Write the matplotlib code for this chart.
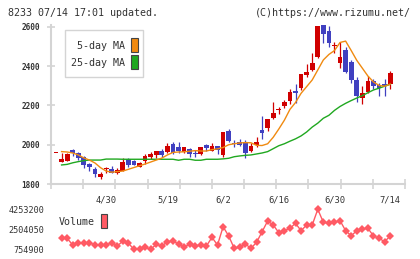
import matplotlib
matplotlib.use("Agg")
import matplotlib.pyplot as plt
import numpy as np
from matplotlib.patches import Rectangle

nan = np.nan

# ------------------------------------------------
# data (one entry per trading day)
# ------------------------------------------------
opens = [1957, 1914, 1919, 1973, 1956, 1939, 1900, 1878, 1837, 1878,
         1878, 1854, 1867, 1926, 1917, 1888, 1919, 1936, 1948, 1968,
         1965, 2004, 1989, 1965, 1978, 1960, 1953, 1997, 1970, 1994,
         1948, 2070, 2011, 2014, 2014, 1968, 1999, 2075, 2087, 2135,
         2177, 2197, 2223, 2276, 2288, 2355, 2381, 2449, 2610, 2581,
         2505, 2415, 2483, 2423, 2330, 2240, 2270, 2325, 2304, 2309,
         2309]
highs = [1957, 1960, 1960, 1978, 1961, 1944, 1908, 1885, 1861, 1888,
         1890, 1880, 1931, 1934, 1924, 1914, 1953, 1965, 1968, 1978,
         2007, 2012, 2014, 1989, 1985, 1973, 1990, 2004, 2007, 1994,
         2065, 2079, 2024, 2028, 2024, 2007, 2038, 2146, 2131, 2216,
         2191, 2228, 2282, 2310, 2360, 2411, 2466, 2605, 2610, 2605,
         2525, 2525, 2497, 2432, 2347, 2301, 2350, 2337, 2313, 2334,
         2376]
lows = [1957, 1914, 1919, 1944, 1922, 1884, 1868, 1837, 1824, 1854,
        1858, 1849, 1866, 1885, 1897, 1885, 1902, 1929, 1931, 1939,
        1960, 1953, 1960, 1960, 1939, 1939, 1948, 1970, 1970, 1953,
        1939, 2016, 1987, 1995, 1934, 1963, 1990, 2029, 2070, 2130,
        2157, 2186, 2208, 2214, 2277, 2344, 2377, 2444, 2517, 2500,
        2466, 2393, 2367, 2316, 2219, 2208, 2265, 2284, 2248, 2248,
        2284]
closes = [1957, 1927, 1953, 1956, 1934, 1895, 1885, 1849, 1849, 1878,
          1858, 1871, 1912, 1897, 1897, 1908, 1943, 1954, 1968, 1948,
          1994, 1956, 1968, 1989, 1951, 1953, 1990, 1985, 1994, 1973,
          2065, 2019, 2002, 1999, 1956, 1994, 2014, 2058, 2131, 2163,
          2177, 2216, 2270, 2262, 2360, 2372, 2418, 2605, 2565, 2520,
          2505, 2449, 2372, 2330, 2248, 2265, 2325, 2301, 2291, 2299,
          2367]

ma5 = [nan, 1965, 1963, 1958, 1948, 1933, 1922, 1907, 1883, 1866,
       1860, 1863, 1866, 1875, 1884, 1893, 1902, 1912, 1922, 1932,
       1948, 1961, 1963, 1964, 1967, 1970, 1968, 1968, 1975, 1979,
       1986, 2000, 2005, 2009, 2011, 2010, 1997, 1996, 2005, 2038,
       2080, 2125, 2180, 2215, 2262, 2296, 2330, 2381, 2432, 2460,
       2480, 2521, 2528, 2480, 2430, 2390, 2350, 2320, 2302, 2298,
       2309]
ma25 = [nan, 1897, 1900, 1908, 1914, 1919, 1922, 1922, 1922, 1927,
        1927, 1927, 1926, 1926, 1926, 1926, 1926, 1926, 1926, 1926,
        1926, 1926, 1921, 1926, 1926, 1921, 1921, 1926, 1926, 1926,
        1928, 1931, 1939, 1943, 1946, 1948, 1953, 1958, 1965, 1980,
        1995, 2005, 2018, 2030, 2045, 2065, 2090, 2110, 2135, 2150,
        2175, 2195, 2211, 2225, 2238, 2250, 2265, 2279, 2288, 2298,
        2308]

volume = [nan, 1717000, 1717000, 1130000, 1330000, 1280000, 1330000, 1130000, 1130000, 1130000,
          1330000, 1040000, 1480000, 1280000, 755000, 755000, 930000, 755000, 1190000, 1040000,
          1420000, 1480000, 1220000, 930000, 1220000, 1040000, 1130000, 1040000, 1800000, 1130000,
          2730000, 1920000, 840000, 930000, 1220000, 840000, 1360000, 2290000, 3230000, 2880000,
          2210000, 2380000, 2590000, 3030000, 2380000, 2880000, 2880000, 4250000, 3120000, 3030000,
          3120000, 3260000, 2380000, 1940000, 2380000, 2530000, 2590000, 1920000, 1720000, 1420000,
          1920000]

date_labels = ["4/30", "5/19", "6/2", "6/16", "6/30", "7/14"]
date_index = [10, 21, 31, 41, 51, 61]
price_ticks = [1800, 2000, 2200, 2400, 2600]
vol_ticks = [754900, 2504050, 4253200]

# ------------------------------------------------
# colours / figure
# ------------------------------------------------
RED = "#d00000"
BLUE = "#4040c0"
ORANGE = "#f08a10"
GREEN = "#20a820"
VOLC = "#ff5a64"
GRAY = "#d4d4d4"
TXT = "#333333"

W, H = 420, 259
fig = plt.figure(figsize=(W / 100, H / 100), dpi=100)
plt.rcParams['font.family'] = ['DejaVu Sans Mono']


def fx(px):
    return px / W


def fy(py):
    return 1 - py / H


x = np.arange(1, len(opens) + 1)
xlo, xhi = 0.1, 63.66

# ------------------------------------------------
# price panel
# ------------------------------------------------
ax = fig.add_axes([fx(51), fy(184), fx(405) - fx(51), fy(25) - fy(184)])
ax.set_xlim(xlo, xhi)
ax.set_ylim(1800, 2610)

o = np.array(opens)
c = np.array(closes)
up = c >= o
cols = np.where(up, RED, BLUE)
ax.vlines(x, lows, highs, colors=cols, lw=0.9, zorder=2)
body_low = np.minimum(o, c)
body_h = np.maximum(np.abs(c - o), 4)
ax.bar(x, body_h, bottom=body_low, width=0.85, color=cols, lw=0, zorder=3)

ax.plot(x, ma25, color=GREEN, lw=1.0, zorder=4)
ax.plot(x, ma5, color=ORANGE, lw=1.0, zorder=4)

for s in ["top", "right"]:
    ax.spines[s].set_visible(False)
for s in ["left", "bottom"]:
    ax.spines[s].set_color(GRAY)
    ax.spines[s].set_linewidth(1.5)

ax.set_yticks(price_ticks)
ax.set_yticklabels([str(p) for p in price_ticks])
ax.tick_params(axis="y", direction="inout", length=6, width=1.2, color=GRAY,
               labelsize=5.6, labelcolor=TXT, pad=5)
ax.set_xticks(np.linspace(xlo, xhi, 12))
ax.set_xticklabels([])
ax.set_xticks(date_index, minor=True)
ax.set_xticklabels(date_labels, minor=True)
ax.tick_params(axis="x", which="major", direction="inout", length=7, width=1.2, color=GRAY)
ax.tick_params(axis="x", which="minor", length=0, labelsize=6.3, labelcolor=TXT, pad=8)
for lbl in ax.get_yticklabels():
    lbl.set_fontweight("bold")

# ------------------------------------------------
# volume panel
# ------------------------------------------------
av = fig.add_axes([fx(51), fy(253), fx(405) - fx(51), fy(205) - fy(253)])
av.set_xlim(xlo, xhi)
av.set_ylim(431300, 4629270)
av.plot(x, volume, color=VOLC, lw=1.0, marker="D", markersize=4.2,
        markeredgewidth=0)
for s in av.spines.values():
    s.set_visible(False)
av.set_xticks([])
av.set_yticks(vol_ticks)
av.set_yticklabels([str(v) for v in vol_ticks])
av.tick_params(axis="y", length=0, labelsize=6.1, labelcolor=TXT, pad=5)

# ------------------------------------------------
# header + legends
# ------------------------------------------------
fig.text(fx(8), fy(13), "8233 07/14 17:01 updated.", fontsize=7.2,
         color=TXT, va="center", ha="left")
fig.text(fx(411), fy(13), "(C)https://www.rizumu.net/", fontsize=7.2,
         color=TXT, va="center", ha="right")

fig.patches.append(Rectangle((fx(65), fy(77)), fx(143) - fx(65), fy(30) - fy(77),
                             transform=fig.transFigure, fc="white", ec=GRAY, lw=1.0))
fig.text(fx(125), fy(46), "5-day MA", fontsize=7.2, color=TXT, va="center", ha="right")
fig.text(fx(125), fy(63), "25-day MA", fontsize=7.2, color=TXT, va="center", ha="right")
fig.patches.append(Rectangle((fx(131), fy(52)), fx(138) - fx(131), fy(38) - fy(52),
                             transform=fig.transFigure, fc=ORANGE, ec="#444444", lw=0.8))
fig.patches.append(Rectangle((fx(131), fy(69)), fx(138) - fx(131), fy(55) - fy(69),
                             transform=fig.transFigure, fc=GREEN, ec="#444444", lw=0.8))

fig.text(fx(59), fy(222), "Volume", fontsize=7.2, color=TXT, va="center", ha="left")
fig.patches.append(Rectangle((fx(101), fy(228)), fx(107) - fx(101), fy(214) - fy(228),
                             transform=fig.transFigure, fc=VOLC, ec="#444444", lw=0.8))

fig.savefig("out.png", dpi=100, facecolor="white")
